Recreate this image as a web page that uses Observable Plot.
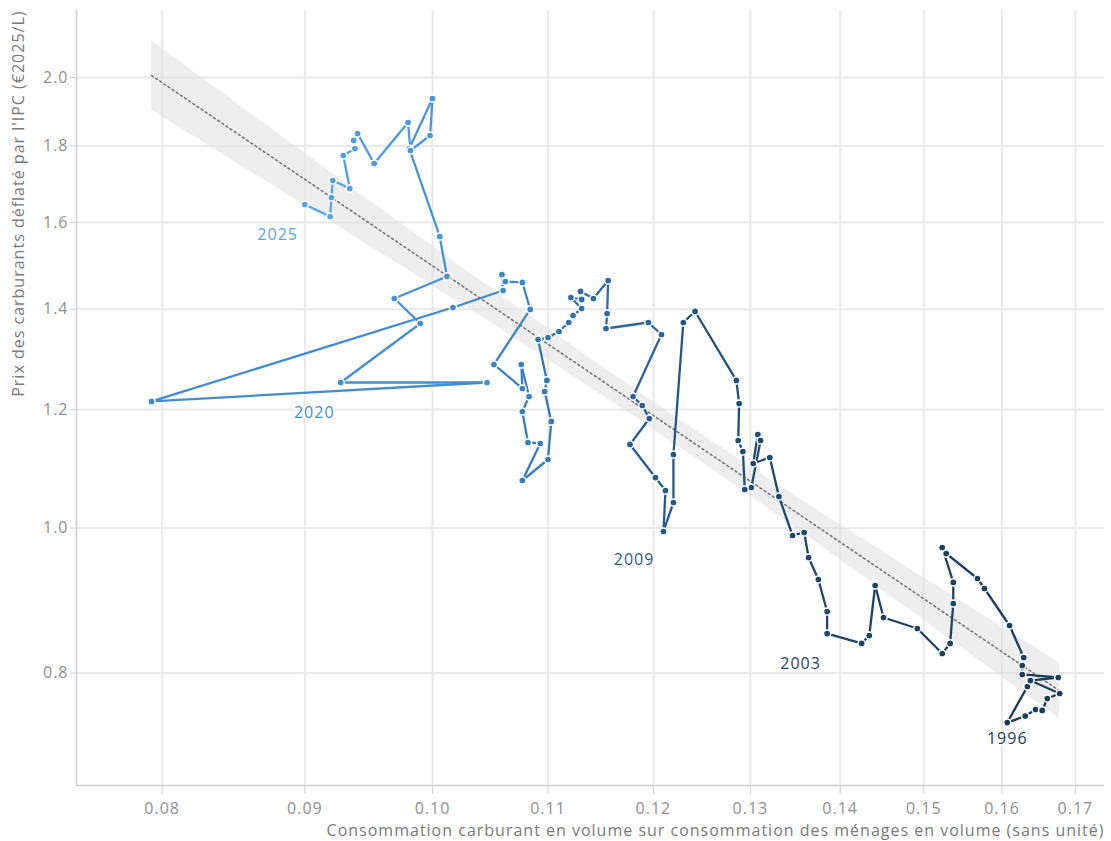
<!DOCTYPE html>
<html><head><meta charset="utf-8">
<script src="https://cdn.jsdelivr.net/npm/d3@7"></script>
<script src="https://cdn.jsdelivr.net/npm/@observablehq/plot@0.6"></script>
<style>
body{margin:0;background:#fff;}
#chart{width:1111px;height:841px;}
#chart svg text{letter-spacing:1px;}
</style></head><body><div id="chart"></div>
<script>
// Consommation carburant / consommation des ménages (en volume), trimestriel 1996 -> 2025
const conso = [
0.1634,0.1607,0.1631,0.1645,0.1654,0.1661,0.1678,0.1638,0.1676,0.1627,
0.1627,0.1629,0.1610,0.1577,0.1568,0.1528,0.1523,0.1537,0.1537,0.1533,
0.1523,0.1492,0.1451,0.1441,0.1434,0.1425,0.1385,0.1385,0.1375,0.1364,
0.1359,0.1346,0.1331,0.1321,0.1303,0.1308,0.1311,0.1301,0.1294,0.1292,
0.1287,0.1288,0.1285,0.1242,0.1230,0.1220,0.1220,0.1210,0.1212,0.1202,
0.1177,0.1196,0.1189,0.1180,0.1208,0.1195,0.1154,0.1155,0.1156,0.1142,
0.1130,0.1131,0.1121,0.1131,0.1123,0.1119,0.1110,0.1100,0.1091,0.1099,
0.1097,0.1103,0.1100,0.1077,0.1093,0.1082,0.1077,0.1083,0.1076,0.1077,
0.1052,0.1084,0.1077,0.1062,0.1059,0.1060,0.1017,0.0793,0.1046,0.0927,
0.0990,0.0969,0.1012,0.1006,0.0981,0.1000,0.0998,0.0982,0.0980,0.0953,
0.0940,0.0937,0.0938,0.0929,0.0934,0.0921,0.0920,0.0919,0.0900
];
// Prix des carburants déflaté par l'IPC (€2025/L)
const prix = [
0.7837,0.7414,0.7488,0.7564,0.7553,0.7693,0.7753,0.7909,0.7946,0.7983,
0.8094,0.8194,0.8608,0.9112,0.9253,0.9616,0.9705,0.9197,0.8904,0.8373,
0.8245,0.8568,0.8714,0.9154,0.8476,0.8373,0.8502,0.8795,0.9239,0.9557,
0.9932,0.9886,1.0497,1.1146,1.1044,1.1548,1.1442,1.0644,1.0611,1.1250,
1.1442,1.2112,1.2549,1.3954,1.3719,1.1198,1.0401,0.9947,1.0594,1.0808,
1.1372,1.1836,1.2075,1.2243,1.3468,1.3719,1.3593,1.3911,1.4635,1.4235,
1.4390,1.4214,1.4257,1.4018,1.3868,1.3719,1.3531,1.3406,1.3365,1.2549,
1.2338,1.1782,1.1112,1.0759,1.1389,1.1407,1.1964,1.2243,1.2861,1.2395,
1.2861,1.3997,1.4591,1.4613,1.4771,1.4412,1.4040,1.2150,1.2510,1.2510,
1.3698,1.4235,1.4726,1.5660,1.7930,1.9364,1.8293,1.7875,1.8662,1.7521,
1.8349,1.8153,1.7930,1.7738,1.6860,1.7069,1.6628,1.6149,1.6450
];
const firstYear = 1996;
const lastYear = 2025;

const labelYears = [1996, 2003, 2009, 2020, 2025];
const labelConso = [0.1607, 0.1355, 0.1181, 0.0907, 0.0880];
const labelPrix = [0.7231, 0.8113, 0.9528, 1.193, 1.571];

const xTicks = [0.08, 0.09, 0.10, 0.11, 0.12, 0.13, 0.14, 0.15, 0.16, 0.17];
const yTicks = [0.8, 1.0, 1.2, 1.4, 1.6, 1.8, 2.0];
const xDomain = [0.07454, 0.17413];
const yDomain = [0.67296, 2.2171];

const xTitle = "Consommation carburant en volume sur consommation des ménages en volume (sans unité)";
const yTitle = "Prix des carburants déflaté par l'IPC (€2025/L)";

// ---- derived tables ----
const n = conso.length;
const pts = conso.map((c, i) => ({x: c, y: prix[i], year: firstYear + (lastYear - firstYear) * i / (n - 1)}));
const segs = pts.slice(1).map((p, i) => ({x1: pts[i].x, y1: pts[i].y, x2: p.x, y2: p.y, year: (pts[i].year + p.year) / 2}));
const colorOf = d3.scaleLinear().domain([1996, 2006, 2011, 2018, 2025])
  .range(["#1b3a58", "#1f4a72", "#2c67a2", "#3b86c9", "#55a6e9"]).interpolate(d3.interpolateRgb).clamp(true);
const labels = labelYears.map((yr, i) => ({text: String(yr), x: labelConso[i], y: labelPrix[i], year: yr}));

// log-log OLS regression with 95% confidence band
const lx = pts.map(p => Math.log(p.x)), ly = pts.map(p => Math.log(p.y));
const mx = d3.mean(lx), my = d3.mean(ly);
const sxx = d3.sum(lx, v => (v - mx) ** 2);
const sxy = d3.sum(lx.map((v, i) => (v - mx) * (ly[i] - my)));
const b = sxy / sxx, a = my - b * mx;
const s = Math.sqrt(d3.sum(lx.map((v, i) => (ly[i] - a - b * v) ** 2)) / (n - 2));
const t = 1.98;
const [xmin, xmax] = d3.extent(conso);
const band = d3.range(61).map(k => {
  const lxx = Math.log(xmin) + (Math.log(xmax) - Math.log(xmin)) * k / 60;
  const fit = a + b * lxx;
  const h = t * s * Math.sqrt(1 / n + (lxx - mx) ** 2 / sxx);
  return {x: Math.exp(lxx), y: Math.exp(fit), lo: Math.exp(fit - h), hi: Math.exp(fit + h)};
});
const trend = [band[0], band[band.length - 1]];

const chart = Plot.plot({
  width: 1111, height: 841,
  marginLeft: 76, marginRight: 7, marginTop: 10, marginBottom: 56,
  style: {fontFamily: "'Open Sans', sans-serif", background: "#fff"},
  x: {type: "log", domain: xDomain},
  y: {type: "log", domain: yDomain},
  color: {type: "identity"},
  marks: [
    Plot.gridX(xTicks, {stroke: "#e9e9e9", strokeOpacity: 1, strokeWidth: 2}),
    Plot.gridY(yTicks, {stroke: "#e9e9e9", strokeOpacity: 1, strokeWidth: 2}),
    Plot.ruleX([xDomain[0]], {stroke: "#cfcfcf", strokeWidth: 1.6}),
    Plot.ruleY([yDomain[0]], {stroke: "#cfcfcf", strokeWidth: 1.6}),
    Plot.axisX(xTicks, {tickFormat: d3.format(".2f"), tickSize: 9, tickPadding: 8, stroke: "#cfcfcf", fill: "#8f8f8f", fontSize: 16, label: null}),
    Plot.axisY(yTicks, {tickFormat: d3.format(".1f"), tickSize: 6, tickPadding: 2, stroke: "#cfcfcf", fill: "#8f8f8f", fontSize: 16, label: null}),
    Plot.areaY(band, {x: "x", y1: "lo", y2: "hi", fill: "#e3e3e3", fillOpacity: 0.6}),
    Plot.line(trend, {x: "x", y: "y", stroke: "#6e6e6e", strokeWidth: 1.5, strokeDasharray: "2,3"}),
    Plot.link(segs, {x1: "x1", y1: "y1", x2: "x2", y2: "y2", stroke: d => colorOf(d.year), strokeWidth: 2.3, strokeLinecap: "round"}),
    Plot.dot(pts, {x: "x", y: "y", r: 3.6, fill: d => colorOf(d.year), stroke: "white", strokeWidth: 1.5}),
    Plot.text(labels, {x: "x", y: "y", text: "text", fill: d => colorOf(d.year), stroke: "white", strokeWidth: 3, fontSize: 16, lineAnchor: "middle"}),
    Plot.text([yTitle], {frameAnchor: "top-left", dx: -58, rotate: -90, textAnchor: "end", lineAnchor: "middle", fill: "#7a7a7a", fontSize: 16}),
    Plot.text([xTitle], {frameAnchor: "bottom-right", dy: 45, textAnchor: "end", lineAnchor: "middle", fill: "#7a7a7a", fontSize: 16})
  ]
});
document.getElementById("chart").appendChild(chart);
</script>
</body></html>
